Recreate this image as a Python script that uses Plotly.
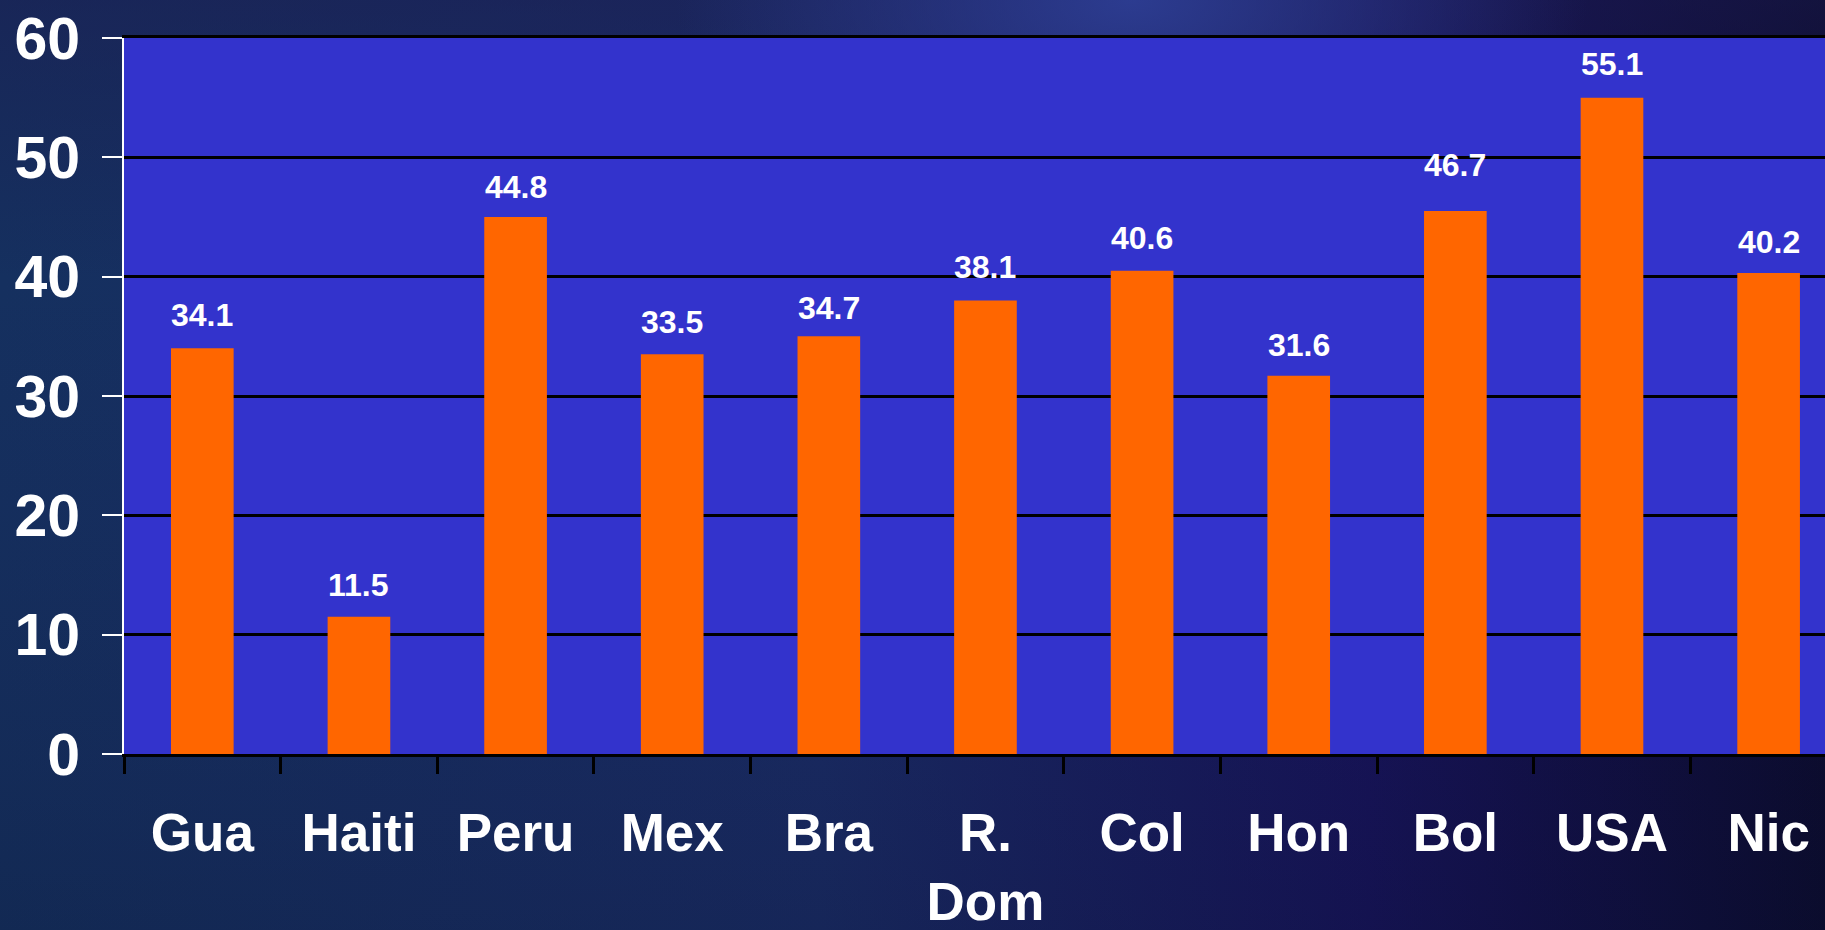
import base64
import plotly.graph_objects as go

# ---- data ----
categories = ["Gua", "Haiti", "Peru", "Mex", "Bra", "R.<br>Dom", "Col", "Hon", "Bol", "USA", "Nic"]
bar_values = [34.0, 11.5, 45.0, 33.5, 35.0, 38.0, 40.5, 31.7, 45.5, 55.0, 40.3]
label_values = [34.1, 11.5, 44.8, 33.5, 34.7, 38.1, 40.6, 31.6, 46.7, 55.1, 40.2]
y_ticks = [0, 10, 20, 30, 40, 50, 60]

W, H = 1825, 930
L, R, T, B = 124, 0, 38, 176

# background gradient (slide-like)
svg = f"""<svg xmlns='http://www.w3.org/2000/svg' width='{W}' height='{H}' viewBox='0 0 {W} {H}' preserveAspectRatio='none'>
<defs>
<linearGradient id='g1' x1='0' y1='0' x2='1' y2='0'>
<stop offset='0' stop-color='#15305f'/>
<stop offset='0.45' stop-color='#1a2c66'/>
<stop offset='0.75' stop-color='#17125a'/>
<stop offset='1' stop-color='#0b0a2c'/>
</linearGradient>
<radialGradient id='g2' cx='0.62' cy='0.0' r='0.25'>
<stop offset='0' stop-color='#2e3f96' stop-opacity='0.9'/>
<stop offset='1' stop-color='#2e3f96' stop-opacity='0'/>
</radialGradient>
<linearGradient id='g3' x1='0' y1='0' x2='0' y2='1'>
<stop offset='0' stop-color='#1c1c50' stop-opacity='0.5'/>
<stop offset='0.3' stop-color='#1c1c50' stop-opacity='0'/>
<stop offset='1' stop-color='#0a1430' stop-opacity='0.25'/>
</linearGradient>
</defs>
<rect width='{W}' height='{H}' fill='url(#g1)'/>
<rect width='{W}' height='{H}' fill='url(#g3)'/>
<rect width='{W}' height='{H}' fill='url(#g2)'/>
</svg>"""
bg_src = "data:image/svg+xml;base64," + base64.b64encode(svg.encode()).decode()

pw = W - L - R
ph = H - T - B

fig = go.Figure()
fig.add_trace(go.Bar(
    x=categories, y=bar_values, width=0.4,
    marker=dict(color="#FF6600", line=dict(width=0)),
    hoverinfo="skip",
))

annotations = []
for c, v in zip(categories, label_values):
    annotations.append(dict(
        x=c, y=v, xref="x", yref="y", text=f"{v:.1f}", showarrow=False,
        yanchor="bottom", yshift=12,
        font=dict(family="Liberation Sans, Arial, sans-serif", size=32, color="white", weight="bold"),
    ))

fig.update_layout(
    width=W, height=H,
    margin=dict(l=L, r=R, t=T, b=B, pad=0, autoexpand=False),
    paper_bgcolor="#15285a",
    plot_bgcolor="rgba(0,0,0,0)",
    showlegend=False,
    bargap=0.6,
    annotations=annotations,
    images=[dict(
        source=bg_src, xref="paper", yref="paper",
        x=-L / pw, y=1 + T / ph, sizex=W / pw, sizey=H / ph,
        xanchor="left", yanchor="top", sizing="stretch", layer="below",
    )],
    shapes=[dict(
        type="rect", xref="paper", yref="paper", x0=0, x1=1, y0=0, y1=1,
        fillcolor="#3333CC", line=dict(width=0), layer="below",
    )],
    xaxis=dict(
        type="category",
        range=[-0.5, 10.36],
        automargin=False,
        showgrid=False,
        showline=True, linecolor="black", linewidth=3, mirror=True,
        ticks="outside", tickson="boundaries", ticklen=17, tickwidth=2.5, tickcolor="black",
        ticklabelstandoff=30,
        tickfont=dict(family="Liberation Sans, Arial, sans-serif",
                      size=53, color="white", weight="bold"),
        fixedrange=True,
    ),
    yaxis=dict(
        range=[0, 60],
        automargin=False,
        tickvals=y_ticks,
        showgrid=True, gridcolor="black", gridwidth=3,
        zeroline=False,
        showline=True, linecolor="white", linewidth=2,
        ticks="outside", ticklen=20, tickwidth=2, tickcolor="white",
        ticklabelstandoff=10,
        tickfont=dict(family="Liberation Sans, Arial, sans-serif", size=59, color="white", weight="bold"),
        fixedrange=True,
    ),
)

fig.write_html(
    "out.html",
    config={"displayModeBar": False},
    post_script="document.body.style.margin='0';document.body.style.overflow='hidden';",
)
